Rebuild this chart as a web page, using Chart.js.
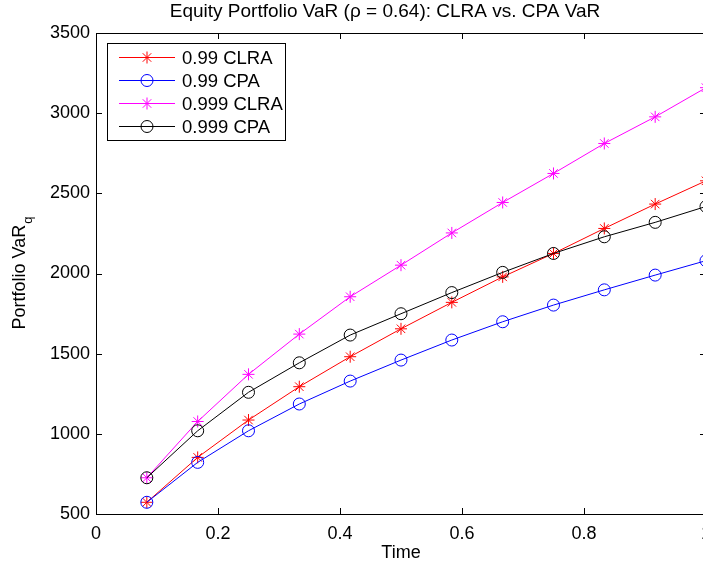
<!DOCTYPE html>
<html>
<head>
<meta charset="utf-8">
<title>Equity Portfolio VaR</title>
<script src="https://cdn.jsdelivr.net/npm/chart.js@4.4.1/dist/chart.umd.min.js"></script>
<style>
  html, body { margin: 0; padding: 0; background: #fff; overflow: hidden; }
  canvas { display: block; }
</style>
</head>
<body>
<canvas id="varChart" width="720" height="566"></canvas>
<script>
const titleText = 'Equity Portfolio VaR (\u03c1 = 0.64): CLRA vs. CPA VaR';
const xLabel = 'Time';
const yLabel = 'Portfolio VaR';
const yLabelSub = 'q';

// time in years (monthly steps)
const times = [0.0833, 0.1667, 0.25, 0.3333, 0.4167, 0.5, 0.5833, 0.6667, 0.75, 0.8333, 0.9167, 1.0];
const clra99 = [573, 853, 1086, 1294, 1481, 1655, 1820, 1979, 2125, 2281, 2433, 2578];
const cpa99 = [573, 822, 1019, 1186, 1329, 1460, 1585, 1699, 1803, 1898, 1990, 2080];
const clra999 = [726, 1077, 1371, 1622, 1855, 2052, 2253, 2443, 2624, 2811, 2977, 3159];
const cpa999 = [726, 1019, 1259, 1443, 1616, 1749, 1881, 2007, 2125, 2229, 2319, 2418];

const seriesNames = ['0.99 CLRA', '0.99 CPA', '0.999 CLRA', '0.999 CPA'];
const seriesColors = ['#ff0000', '#0000ff', '#ff00ff', '#000000'];
const seriesMarkers = ['star', 'circle', 'star', 'circle'];
const seriesValues = [clra99, cpa99, clra999, cpa999];

const fontFamily = "'Liberation Sans', Arial, Helvetica, sans-serif";

const toPoints = (values) => values.map((v, i) => ({ x: times[i], y: v }));

const dataSets = seriesValues.map((values, i) => ({
  label: seriesNames[i],
  data: toPoints(values),
  borderColor: seriesColors[i],
  backgroundColor: 'rgba(0,0,0,0)',
  borderWidth: 1,
  pointStyle: seriesMarkers[i],
  pointRadius: 6,
  pointBorderWidth: 1,
  pointBorderColor: seriesColors[i],
  pointBackgroundColor: 'rgba(0,0,0,0)',
  tension: 0,
  order: seriesValues.length - i,
}));

// matlab style box, inward ticks, title, ylabel with subscript and legend
const matlabFrame = {
  id: 'matlabFrame',
  afterDatasetsDraw(chart) {
    const { ctx, chartArea: area } = chart;
    const xScale = chart.scales.x;
    const yScale = chart.scales.y;
    const tickLen = 6;
    ctx.save();
    ctx.strokeStyle = '#000';
    ctx.lineWidth = 1;
    ctx.strokeRect(area.left + 0.5, area.top + 0.5, area.right - area.left, area.bottom - area.top);
    ctx.beginPath();
    xScale.ticks.forEach((t) => {
      const px = Math.round(xScale.getPixelForValue(t.value)) + 0.5;
      ctx.moveTo(px, area.bottom);
      ctx.lineTo(px, area.bottom - tickLen);
      ctx.moveTo(px, area.top);
      ctx.lineTo(px, area.top + tickLen);
    });
    yScale.ticks.forEach((t) => {
      const py = Math.round(yScale.getPixelForValue(t.value)) + 0.5;
      ctx.moveTo(area.left, py);
      ctx.lineTo(area.left + tickLen, py);
      ctx.moveTo(area.right, py);
      ctx.lineTo(area.right - tickLen, py);
    });
    ctx.stroke();
    ctx.restore();
  },
  afterDraw(chart) {
    const { ctx, chartArea: area } = chart;
    ctx.save();
    ctx.fillStyle = '#000';

    // title
    ctx.font = `19px ${fontFamily}`;
    ctx.textAlign = 'center';
    ctx.textBaseline = 'middle';
    ctx.fillText(titleText, 385, 12);

    // y label
    ctx.font = `18px ${fontFamily}`;
    const mainW = ctx.measureText(yLabel).width;
    ctx.font = `13px ${fontFamily}`;
    const subW = ctx.measureText(yLabelSub).width;
    ctx.translate(20, (area.top + area.bottom) / 2);
    ctx.rotate(-Math.PI / 2);
    ctx.textAlign = 'left';
    const start = -(mainW + subW) / 2;
    ctx.font = `18px ${fontFamily}`;
    ctx.fillText(yLabel, start, 0);
    ctx.font = `13px ${fontFamily}`;
    ctx.fillText(yLabelSub, start + mainW + 1, 8);
    ctx.setTransform(1, 0, 0, 1, 0, 0);

    // legend
    const box = { x: 107.5, y: 43.5, w: 178, h: 97 };
    ctx.fillStyle = '#fff';
    ctx.fillRect(box.x, box.y, box.w, box.h);
    ctx.strokeStyle = '#000';
    ctx.lineWidth = 1;
    ctx.strokeRect(box.x, box.y, box.w, box.h);
    chart.data.datasets.forEach((ds, i) => {
      const y = 57.5 + i * 23;
      ctx.strokeStyle = ds.borderColor;
      ctx.lineWidth = 1;
      ctx.beginPath();
      ctx.moveTo(119, y);
      ctx.lineTo(175, y);
      ctx.stroke();
      ctx.fillStyle = 'rgba(0,0,0,0)';
      Chart.helpers.drawPoint(ctx, {
        pointStyle: ds.pointStyle, radius: 6, rotation: 0, borderWidth: 1,
      }, 147, y);
      ctx.fillStyle = '#000';
      ctx.font = `18.5px ${fontFamily}`;
      ctx.textAlign = 'left';
      ctx.textBaseline = 'middle';
      ctx.fillText(ds.label, 182, y + 1);
    });
    ctx.restore();
  },
};

const plainNumber = (value) => String(Number(value.toFixed(1)));

const ctx = document.getElementById('varChart').getContext('2d');
// eslint-disable-next-line no-undef
const chart = new Chart(ctx, {
  type: 'line',
  data: { datasets: dataSets },
  options: {
    responsive: false,
    animation: false,
    events: [],
    layout: {
      autoPadding: false,
      padding: { top: 33, right: 14, bottom: 0, left: 0 },
    },
    plugins: {
      legend: { display: false },
      tooltip: { enabled: false },
      title: { display: false },
    },
    scales: {
      x: {
        type: 'linear',
        min: 0,
        max: 1,
        grid: { display: false, drawTicks: false },
        border: { display: false },
        ticks: {
          stepSize: 0.2,
          color: '#000',
          padding: 9,
          maxRotation: 0,
          callback: plainNumber,
          font: { size: 18, family: fontFamily },
        },
        title: {
          display: true,
          text: xLabel,
          color: '#000',
          padding: { top: 0, bottom: 2 },
          font: { size: 18, family: fontFamily },
        },
        afterFit: (scale) => { scale.height = 52; },
      },
      y: {
        min: 500,
        max: 3500,
        grid: { display: false, drawTicks: false },
        border: { display: false },
        ticks: {
          stepSize: 500,
          color: '#000',
          padding: 6,
          callback: plainNumber,
          font: { size: 18, family: fontFamily },
        },
        afterFit: (scale) => { scale.width = 96; },
      },
    },
  },
  plugins: [matlabFrame],
});
</script>
</body>
</html>
